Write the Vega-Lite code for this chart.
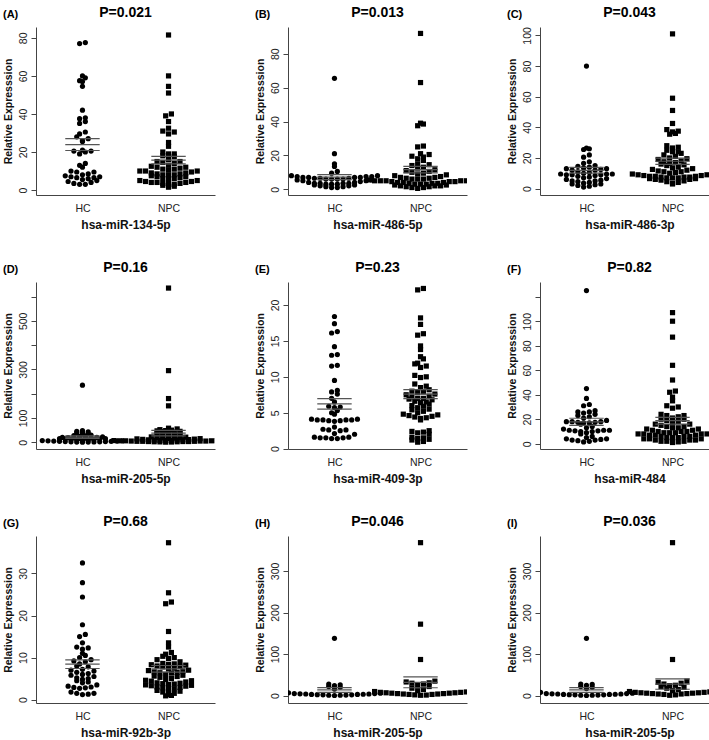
{
"$schema": "https://vega.github.io/schema/vega-lite/v6.json",
"background": "white",
"padding": {"left": 3, "top": 5, "right": 0, "bottom": 0},
"datasets": {"d": [
{"p":"A","g":"HC","v":77},{"p":"A","g":"HC","v":77.5},{"p":"A","g":"HC","v":60},{"p":"A","g":"HC","v":59},{"p":"A","g":"HC","v":57.5},{"p":"A","g":"HC","v":57},{"p":"A","g":"HC","v":54.5},{"p":"A","g":"HC","v":42},{"p":"A","g":"HC","v":38},{"p":"A","g":"HC","v":37.5},{"p":"A","g":"HC","v":36},{"p":"A","g":"HC","v":35},{"p":"A","g":"HC","v":30.5},{"p":"A","g":"HC","v":29.5},{"p":"A","g":"HC","v":28},{"p":"A","g":"HC","v":27},{"p":"A","g":"HC","v":26},{"p":"A","g":"HC","v":25.5},{"p":"A","g":"HC","v":21},{"p":"A","g":"HC","v":20.5},{"p":"A","g":"HC","v":20.5},{"p":"A","g":"HC","v":20},{"p":"A","g":"HC","v":19},{"p":"A","g":"HC","v":14},{"p":"A","g":"HC","v":13},{"p":"A","g":"HC","v":12},{"p":"A","g":"HC","v":10},{"p":"A","g":"HC","v":9.5},{"p":"A","g":"HC","v":9.5},{"p":"A","g":"HC","v":8.5},{"p":"A","g":"HC","v":8},{"p":"A","g":"HC","v":7.5},{"p":"A","g":"HC","v":7},{"p":"A","g":"HC","v":7},{"p":"A","g":"HC","v":6.5},{"p":"A","g":"HC","v":6.5},{"p":"A","g":"HC","v":6},{"p":"A","g":"HC","v":5.5},{"p":"A","g":"HC","v":5},{"p":"A","g":"HC","v":4.5},{"p":"A","g":"HC","v":4},{"p":"A","g":"HC","v":3.5},{"p":"A","g":"HC","v":3},{"p":"A","g":"HC","v":3},
{"p":"A","g":"NPC","v":81.5},{"p":"A","g":"NPC","v":60},{"p":"A","g":"NPC","v":54.5},{"p":"A","g":"NPC","v":51},{"p":"A","g":"NPC","v":40},{"p":"A","g":"NPC","v":39},{"p":"A","g":"NPC","v":36},{"p":"A","g":"NPC","v":32.5},{"p":"A","g":"NPC","v":31},{"p":"A","g":"NPC","v":30.5},{"p":"A","g":"NPC","v":29.5},{"p":"A","g":"NPC","v":25},{"p":"A","g":"NPC","v":23},{"p":"A","g":"NPC","v":20},{"p":"A","g":"NPC","v":19},{"p":"A","g":"NPC","v":19},{"p":"A","g":"NPC","v":18},{"p":"A","g":"NPC","v":17.5},{"p":"A","g":"NPC","v":16},{"p":"A","g":"NPC","v":15},{"p":"A","g":"NPC","v":15},{"p":"A","g":"NPC","v":14.5},{"p":"A","g":"NPC","v":14},{"p":"A","g":"NPC","v":13},{"p":"A","g":"NPC","v":12.5},{"p":"A","g":"NPC","v":12},{"p":"A","g":"NPC","v":12},{"p":"A","g":"NPC","v":11.5},{"p":"A","g":"NPC","v":11},{"p":"A","g":"NPC","v":11},{"p":"A","g":"NPC","v":10.5},{"p":"A","g":"NPC","v":10},{"p":"A","g":"NPC","v":10},{"p":"A","g":"NPC","v":10},{"p":"A","g":"NPC","v":9.5},{"p":"A","g":"NPC","v":9},{"p":"A","g":"NPC","v":9},{"p":"A","g":"NPC","v":8.5},{"p":"A","g":"NPC","v":8.5},{"p":"A","g":"NPC","v":8},{"p":"A","g":"NPC","v":8},{"p":"A","g":"NPC","v":8},{"p":"A","g":"NPC","v":7.5},{"p":"A","g":"NPC","v":7},{"p":"A","g":"NPC","v":7},{"p":"A","g":"NPC","v":6.5},{"p":"A","g":"NPC","v":6},{"p":"A","g":"NPC","v":6},{"p":"A","g":"NPC","v":5.5},{"p":"A","g":"NPC","v":5},{"p":"A","g":"NPC","v":5},{"p":"A","g":"NPC","v":4.5},{"p":"A","g":"NPC","v":4.5},{"p":"A","g":"NPC","v":4},{"p":"A","g":"NPC","v":4},{"p":"A","g":"NPC","v":4},{"p":"A","g":"NPC","v":3.5},{"p":"A","g":"NPC","v":3.5},{"p":"A","g":"NPC","v":3},{"p":"A","g":"NPC","v":3},{"p":"A","g":"NPC","v":2.5},{"p":"A","g":"NPC","v":2},{"p":"A","g":"NPC","v":1.5},
{"p":"B","g":"HC","v":65.5},{"p":"B","g":"HC","v":21},{"p":"B","g":"HC","v":15},{"p":"B","g":"HC","v":13.5},{"p":"B","g":"HC","v":10.5},{"p":"B","g":"HC","v":9.5},{"p":"B","g":"HC","v":8},{"p":"B","g":"HC","v":8},{"p":"B","g":"HC","v":7.5},{"p":"B","g":"HC","v":7.5},{"p":"B","g":"HC","v":7.5},{"p":"B","g":"HC","v":7},{"p":"B","g":"HC","v":7},{"p":"B","g":"HC","v":7},{"p":"B","g":"HC","v":7},{"p":"B","g":"HC","v":6.5},{"p":"B","g":"HC","v":6.5},{"p":"B","g":"HC","v":6.5},{"p":"B","g":"HC","v":6},{"p":"B","g":"HC","v":6},{"p":"B","g":"HC","v":6},{"p":"B","g":"HC","v":6},{"p":"B","g":"HC","v":5.5},{"p":"B","g":"HC","v":5.5},{"p":"B","g":"HC","v":5},{"p":"B","g":"HC","v":5},{"p":"B","g":"HC","v":4.5},{"p":"B","g":"HC","v":4},{"p":"B","g":"HC","v":4},{"p":"B","g":"HC","v":3.5},{"p":"B","g":"HC","v":3.5},{"p":"B","g":"HC","v":3.5},{"p":"B","g":"HC","v":3.5},{"p":"B","g":"HC","v":3},{"p":"B","g":"HC","v":3},{"p":"B","g":"HC","v":3},{"p":"B","g":"HC","v":2.5},{"p":"B","g":"HC","v":2.5},{"p":"B","g":"HC","v":2},{"p":"B","g":"HC","v":2},{"p":"B","g":"HC","v":1.5},{"p":"B","g":"HC","v":1.5},{"p":"B","g":"HC","v":1},{"p":"B","g":"HC","v":1},
{"p":"B","g":"NPC","v":92},{"p":"B","g":"NPC","v":63},{"p":"B","g":"NPC","v":39},{"p":"B","g":"NPC","v":38.5},{"p":"B","g":"NPC","v":37.5},{"p":"B","g":"NPC","v":25.5},{"p":"B","g":"NPC","v":25},{"p":"B","g":"NPC","v":21},{"p":"B","g":"NPC","v":20.5},{"p":"B","g":"NPC","v":19.5},{"p":"B","g":"NPC","v":19},{"p":"B","g":"NPC","v":18},{"p":"B","g":"NPC","v":17},{"p":"B","g":"NPC","v":15},{"p":"B","g":"NPC","v":14.5},{"p":"B","g":"NPC","v":14},{"p":"B","g":"NPC","v":13},{"p":"B","g":"NPC","v":12.5},{"p":"B","g":"NPC","v":11.5},{"p":"B","g":"NPC","v":11},{"p":"B","g":"NPC","v":10.5},{"p":"B","g":"NPC","v":10},{"p":"B","g":"NPC","v":9.5},{"p":"B","g":"NPC","v":9},{"p":"B","g":"NPC","v":8.5},{"p":"B","g":"NPC","v":8},{"p":"B","g":"NPC","v":7.5},{"p":"B","g":"NPC","v":7},{"p":"B","g":"NPC","v":7},{"p":"B","g":"NPC","v":6.5},{"p":"B","g":"NPC","v":6.5},{"p":"B","g":"NPC","v":6},{"p":"B","g":"NPC","v":6},{"p":"B","g":"NPC","v":6},{"p":"B","g":"NPC","v":5.5},{"p":"B","g":"NPC","v":5.5},{"p":"B","g":"NPC","v":5},{"p":"B","g":"NPC","v":5},{"p":"B","g":"NPC","v":5},{"p":"B","g":"NPC","v":5},{"p":"B","g":"NPC","v":5},{"p":"B","g":"NPC","v":4.5},{"p":"B","g":"NPC","v":4.5},{"p":"B","g":"NPC","v":4.5},{"p":"B","g":"NPC","v":4},{"p":"B","g":"NPC","v":4},{"p":"B","g":"NPC","v":4},{"p":"B","g":"NPC","v":3.5},{"p":"B","g":"NPC","v":3.5},{"p":"B","g":"NPC","v":3.5},{"p":"B","g":"NPC","v":3},{"p":"B","g":"NPC","v":3},{"p":"B","g":"NPC","v":3},{"p":"B","g":"NPC","v":2.5},{"p":"B","g":"NPC","v":2.5},{"p":"B","g":"NPC","v":2},{"p":"B","g":"NPC","v":2},{"p":"B","g":"NPC","v":2},{"p":"B","g":"NPC","v":1.5},{"p":"B","g":"NPC","v":1.5},{"p":"B","g":"NPC","v":1},{"p":"B","g":"NPC","v":1},{"p":"B","g":"NPC","v":0.5},
{"p":"C","g":"HC","v":80},{"p":"C","g":"HC","v":26.5},{"p":"C","g":"HC","v":26},{"p":"C","g":"HC","v":25.5},{"p":"C","g":"HC","v":22},{"p":"C","g":"HC","v":20.5},{"p":"C","g":"HC","v":17.5},{"p":"C","g":"HC","v":16.5},{"p":"C","g":"HC","v":15},{"p":"C","g":"HC","v":14.5},{"p":"C","g":"HC","v":14},{"p":"C","g":"HC","v":13.5},{"p":"C","g":"HC","v":13},{"p":"C","g":"HC","v":13},{"p":"C","g":"HC","v":12.5},{"p":"C","g":"HC","v":12},{"p":"C","g":"HC","v":12},{"p":"C","g":"HC","v":11},{"p":"C","g":"HC","v":10.5},{"p":"C","g":"HC","v":10},{"p":"C","g":"HC","v":9.5},{"p":"C","g":"HC","v":9.5},{"p":"C","g":"HC","v":9.5},{"p":"C","g":"HC","v":9},{"p":"C","g":"HC","v":9},{"p":"C","g":"HC","v":9},{"p":"C","g":"HC","v":8.5},{"p":"C","g":"HC","v":8},{"p":"C","g":"HC","v":7.5},{"p":"C","g":"HC","v":7},{"p":"C","g":"HC","v":6.5},{"p":"C","g":"HC","v":6},{"p":"C","g":"HC","v":5.5},{"p":"C","g":"HC","v":5},{"p":"C","g":"HC","v":5},{"p":"C","g":"HC","v":4.5},{"p":"C","g":"HC","v":4},{"p":"C","g":"HC","v":3.5},{"p":"C","g":"HC","v":3},{"p":"C","g":"HC","v":3},{"p":"C","g":"HC","v":2.5},{"p":"C","g":"HC","v":2},{"p":"C","g":"HC","v":1.5},{"p":"C","g":"HC","v":1},
{"p":"C","g":"NPC","v":101},{"p":"C","g":"NPC","v":59},{"p":"C","g":"NPC","v":51},{"p":"C","g":"NPC","v":42.5},{"p":"C","g":"NPC","v":38.5},{"p":"C","g":"NPC","v":37.5},{"p":"C","g":"NPC","v":37},{"p":"C","g":"NPC","v":36},{"p":"C","g":"NPC","v":35.5},{"p":"C","g":"NPC","v":28},{"p":"C","g":"NPC","v":27},{"p":"C","g":"NPC","v":26.5},{"p":"C","g":"NPC","v":25},{"p":"C","g":"NPC","v":24},{"p":"C","g":"NPC","v":24},{"p":"C","g":"NPC","v":23},{"p":"C","g":"NPC","v":22},{"p":"C","g":"NPC","v":21},{"p":"C","g":"NPC","v":20},{"p":"C","g":"NPC","v":19.5},{"p":"C","g":"NPC","v":19},{"p":"C","g":"NPC","v":18},{"p":"C","g":"NPC","v":17.5},{"p":"C","g":"NPC","v":17},{"p":"C","g":"NPC","v":16.5},{"p":"C","g":"NPC","v":16},{"p":"C","g":"NPC","v":15.5},{"p":"C","g":"NPC","v":15},{"p":"C","g":"NPC","v":14},{"p":"C","g":"NPC","v":13.5},{"p":"C","g":"NPC","v":13},{"p":"C","g":"NPC","v":12.5},{"p":"C","g":"NPC","v":12},{"p":"C","g":"NPC","v":11.5},{"p":"C","g":"NPC","v":11},{"p":"C","g":"NPC","v":11},{"p":"C","g":"NPC","v":10.5},{"p":"C","g":"NPC","v":10},{"p":"C","g":"NPC","v":9.5},{"p":"C","g":"NPC","v":9.5},{"p":"C","g":"NPC","v":9},{"p":"C","g":"NPC","v":9},{"p":"C","g":"NPC","v":8.5},{"p":"C","g":"NPC","v":8.5},{"p":"C","g":"NPC","v":8},{"p":"C","g":"NPC","v":8},{"p":"C","g":"NPC","v":8},{"p":"C","g":"NPC","v":7.5},{"p":"C","g":"NPC","v":7.5},{"p":"C","g":"NPC","v":7.5},{"p":"C","g":"NPC","v":7},{"p":"C","g":"NPC","v":7},{"p":"C","g":"NPC","v":7},{"p":"C","g":"NPC","v":6.5},{"p":"C","g":"NPC","v":6.5},{"p":"C","g":"NPC","v":6},{"p":"C","g":"NPC","v":6},{"p":"C","g":"NPC","v":5.5},{"p":"C","g":"NPC","v":5},{"p":"C","g":"NPC","v":4.5},{"p":"C","g":"NPC","v":4},{"p":"C","g":"NPC","v":3.5},{"p":"C","g":"NPC","v":3},
{"p":"D","g":"HC","v":235},{"p":"D","g":"HC","v":48},{"p":"D","g":"HC","v":45},{"p":"D","g":"HC","v":43},{"p":"D","g":"HC","v":40},{"p":"D","g":"HC","v":38},{"p":"D","g":"HC","v":35},{"p":"D","g":"HC","v":33},{"p":"D","g":"HC","v":30},{"p":"D","g":"HC","v":28},{"p":"D","g":"HC","v":26},{"p":"D","g":"HC","v":24},{"p":"D","g":"HC","v":22},{"p":"D","g":"HC","v":20},{"p":"D","g":"HC","v":20},{"p":"D","g":"HC","v":19},{"p":"D","g":"HC","v":18},{"p":"D","g":"HC","v":18},{"p":"D","g":"HC","v":17},{"p":"D","g":"HC","v":16},{"p":"D","g":"HC","v":15},{"p":"D","g":"HC","v":15},{"p":"D","g":"HC","v":14},{"p":"D","g":"HC","v":13},{"p":"D","g":"HC","v":12},{"p":"D","g":"HC","v":11},{"p":"D","g":"HC","v":10},{"p":"D","g":"HC","v":9},{"p":"D","g":"HC","v":8},{"p":"D","g":"HC","v":7},{"p":"D","g":"HC","v":6},{"p":"D","g":"HC","v":6},{"p":"D","g":"HC","v":5},{"p":"D","g":"HC","v":5},{"p":"D","g":"HC","v":4},{"p":"D","g":"HC","v":4},{"p":"D","g":"HC","v":3},{"p":"D","g":"HC","v":3},{"p":"D","g":"HC","v":2},{"p":"D","g":"HC","v":2},{"p":"D","g":"HC","v":1.5},{"p":"D","g":"HC","v":1},{"p":"D","g":"HC","v":1},{"p":"D","g":"HC","v":0.5},
{"p":"D","g":"NPC","v":635},{"p":"D","g":"NPC","v":295},{"p":"D","g":"NPC","v":180},{"p":"D","g":"NPC","v":150},{"p":"D","g":"NPC","v":58},{"p":"D","g":"NPC","v":55},{"p":"D","g":"NPC","v":52},{"p":"D","g":"NPC","v":50},{"p":"D","g":"NPC","v":48},{"p":"D","g":"NPC","v":47},{"p":"D","g":"NPC","v":45},{"p":"D","g":"NPC","v":44},{"p":"D","g":"NPC","v":42},{"p":"D","g":"NPC","v":40},{"p":"D","g":"NPC","v":38},{"p":"D","g":"NPC","v":36},{"p":"D","g":"NPC","v":35},{"p":"D","g":"NPC","v":33},{"p":"D","g":"NPC","v":32},{"p":"D","g":"NPC","v":30},{"p":"D","g":"NPC","v":28},{"p":"D","g":"NPC","v":27},{"p":"D","g":"NPC","v":25},{"p":"D","g":"NPC","v":24},{"p":"D","g":"NPC","v":22},{"p":"D","g":"NPC","v":21},{"p":"D","g":"NPC","v":20},{"p":"D","g":"NPC","v":19},{"p":"D","g":"NPC","v":18},{"p":"D","g":"NPC","v":17},{"p":"D","g":"NPC","v":16},{"p":"D","g":"NPC","v":15},{"p":"D","g":"NPC","v":14},{"p":"D","g":"NPC","v":13},{"p":"D","g":"NPC","v":12},{"p":"D","g":"NPC","v":11},{"p":"D","g":"NPC","v":10},{"p":"D","g":"NPC","v":10},{"p":"D","g":"NPC","v":9},{"p":"D","g":"NPC","v":9},{"p":"D","g":"NPC","v":8},{"p":"D","g":"NPC","v":8},{"p":"D","g":"NPC","v":8},{"p":"D","g":"NPC","v":7},{"p":"D","g":"NPC","v":7},{"p":"D","g":"NPC","v":7},{"p":"D","g":"NPC","v":6},{"p":"D","g":"NPC","v":6},{"p":"D","g":"NPC","v":6},{"p":"D","g":"NPC","v":5},{"p":"D","g":"NPC","v":5},{"p":"D","g":"NPC","v":5},{"p":"D","g":"NPC","v":4},{"p":"D","g":"NPC","v":4},{"p":"D","g":"NPC","v":4},{"p":"D","g":"NPC","v":3},{"p":"D","g":"NPC","v":3},{"p":"D","g":"NPC","v":3},{"p":"D","g":"NPC","v":2},{"p":"D","g":"NPC","v":2},{"p":"D","g":"NPC","v":1.5},{"p":"D","g":"NPC","v":1},{"p":"D","g":"NPC","v":0.5},
{"p":"E","g":"HC","v":18.4},{"p":"E","g":"HC","v":17.4},{"p":"E","g":"HC","v":16.3},{"p":"E","g":"HC","v":16.1},{"p":"E","g":"HC","v":14.2},{"p":"E","g":"HC","v":13.1},{"p":"E","g":"HC","v":13},{"p":"E","g":"HC","v":11.6},{"p":"E","g":"HC","v":11.5},{"p":"E","g":"HC","v":9.5},{"p":"E","g":"HC","v":8.1},{"p":"E","g":"HC","v":7.9},{"p":"E","g":"HC","v":7.6},{"p":"E","g":"HC","v":7},{"p":"E","g":"HC","v":6.5},{"p":"E","g":"HC","v":5.9},{"p":"E","g":"HC","v":5.8},{"p":"E","g":"HC","v":5.7},{"p":"E","g":"HC","v":5.3},{"p":"E","g":"HC","v":5},{"p":"E","g":"HC","v":4.8},{"p":"E","g":"HC","v":4.1},{"p":"E","g":"HC","v":4.1},{"p":"E","g":"HC","v":4},{"p":"E","g":"HC","v":4},{"p":"E","g":"HC","v":4},{"p":"E","g":"HC","v":4},{"p":"E","g":"HC","v":3.9},{"p":"E","g":"HC","v":3.9},{"p":"E","g":"HC","v":3.8},{"p":"E","g":"HC","v":3},{"p":"E","g":"HC","v":2.7},{"p":"E","g":"HC","v":2.6},{"p":"E","g":"HC","v":2.6},{"p":"E","g":"HC","v":2.5},{"p":"E","g":"HC","v":2.1},{"p":"E","g":"HC","v":2},{"p":"E","g":"HC","v":1.6},{"p":"E","g":"HC","v":1.6},{"p":"E","g":"HC","v":1.5},{"p":"E","g":"HC","v":1.5},{"p":"E","g":"HC","v":1.5},{"p":"E","g":"HC","v":1.4},{"p":"E","g":"HC","v":1.4},
{"p":"E","g":"NPC","v":22.3},{"p":"E","g":"NPC","v":22.1},{"p":"E","g":"NPC","v":18.2},{"p":"E","g":"NPC","v":17.3},{"p":"E","g":"NPC","v":16},{"p":"E","g":"NPC","v":15.8},{"p":"E","g":"NPC","v":14.3},{"p":"E","g":"NPC","v":13.8},{"p":"E","g":"NPC","v":12.8},{"p":"E","g":"NPC","v":12.5},{"p":"E","g":"NPC","v":11.9},{"p":"E","g":"NPC","v":11.8},{"p":"E","g":"NPC","v":11.5},{"p":"E","g":"NPC","v":11.3},{"p":"E","g":"NPC","v":10.2},{"p":"E","g":"NPC","v":10},{"p":"E","g":"NPC","v":9.9},{"p":"E","g":"NPC","v":9},{"p":"E","g":"NPC","v":8.7},{"p":"E","g":"NPC","v":8.5},{"p":"E","g":"NPC","v":8},{"p":"E","g":"NPC","v":7.8},{"p":"E","g":"NPC","v":7.5},{"p":"E","g":"NPC","v":7.2},{"p":"E","g":"NPC","v":7},{"p":"E","g":"NPC","v":7},{"p":"E","g":"NPC","v":6.8},{"p":"E","g":"NPC","v":6.5},{"p":"E","g":"NPC","v":6.2},{"p":"E","g":"NPC","v":6},{"p":"E","g":"NPC","v":5.7},{"p":"E","g":"NPC","v":5.5},{"p":"E","g":"NPC","v":5.2},{"p":"E","g":"NPC","v":5},{"p":"E","g":"NPC","v":4.8},{"p":"E","g":"NPC","v":4.6},{"p":"E","g":"NPC","v":4.4},{"p":"E","g":"NPC","v":4.3},{"p":"E","g":"NPC","v":4.2},{"p":"E","g":"NPC","v":4},{"p":"E","g":"NPC","v":8.2},{"p":"E","g":"NPC","v":7.9},{"p":"E","g":"NPC","v":7.6},{"p":"E","g":"NPC","v":6.9},{"p":"E","g":"NPC","v":6.4},{"p":"E","g":"NPC","v":4.7},{"p":"E","g":"NPC","v":4.5},{"p":"E","g":"NPC","v":2.5},{"p":"E","g":"NPC","v":2.4},{"p":"E","g":"NPC","v":2.3},{"p":"E","g":"NPC","v":2.2},{"p":"E","g":"NPC","v":2},{"p":"E","g":"NPC","v":5.9},{"p":"E","g":"NPC","v":5.4},{"p":"E","g":"NPC","v":1.6},{"p":"E","g":"NPC","v":1.5},{"p":"E","g":"NPC","v":1.4},{"p":"E","g":"NPC","v":1.3},{"p":"E","g":"NPC","v":1.2},{"p":"E","g":"NPC","v":1},{"p":"E","g":"NPC","v":0.9},{"p":"E","g":"NPC","v":6.6},{"p":"E","g":"NPC","v":7.3},
{"p":"F","g":"HC","v":125},{"p":"F","g":"HC","v":45},{"p":"F","g":"HC","v":37},{"p":"F","g":"HC","v":32},{"p":"F","g":"HC","v":31},{"p":"F","g":"HC","v":27},{"p":"F","g":"HC","v":26},{"p":"F","g":"HC","v":26},{"p":"F","g":"HC","v":25},{"p":"F","g":"HC","v":24},{"p":"F","g":"HC","v":23},{"p":"F","g":"HC","v":22},{"p":"F","g":"HC","v":21},{"p":"F","g":"HC","v":19},{"p":"F","g":"HC","v":18},{"p":"F","g":"HC","v":18},{"p":"F","g":"HC","v":18},{"p":"F","g":"HC","v":17.5},{"p":"F","g":"HC","v":17.5},{"p":"F","g":"HC","v":17},{"p":"F","g":"HC","v":17},{"p":"F","g":"HC","v":16},{"p":"F","g":"HC","v":14},{"p":"F","g":"HC","v":13},{"p":"F","g":"HC","v":12},{"p":"F","g":"HC","v":11},{"p":"F","g":"HC","v":11},{"p":"F","g":"HC","v":11},{"p":"F","g":"HC","v":10.5},{"p":"F","g":"HC","v":10.5},{"p":"F","g":"HC","v":10},{"p":"F","g":"HC","v":10},{"p":"F","g":"HC","v":9},{"p":"F","g":"HC","v":8},{"p":"F","g":"HC","v":6},{"p":"F","g":"HC","v":5},{"p":"F","g":"HC","v":4},{"p":"F","g":"HC","v":4},{"p":"F","g":"HC","v":3.5},{"p":"F","g":"HC","v":3},{"p":"F","g":"HC","v":3},{"p":"F","g":"HC","v":2.5},{"p":"F","g":"HC","v":2},{"p":"F","g":"HC","v":1.5},
{"p":"F","g":"NPC","v":107},{"p":"F","g":"NPC","v":100},{"p":"F","g":"NPC","v":87},{"p":"F","g":"NPC","v":64},{"p":"F","g":"NPC","v":52},{"p":"F","g":"NPC","v":43},{"p":"F","g":"NPC","v":42},{"p":"F","g":"NPC","v":38},{"p":"F","g":"NPC","v":35},{"p":"F","g":"NPC","v":31},{"p":"F","g":"NPC","v":30},{"p":"F","g":"NPC","v":29},{"p":"F","g":"NPC","v":23},{"p":"F","g":"NPC","v":22},{"p":"F","g":"NPC","v":21},{"p":"F","g":"NPC","v":20},{"p":"F","g":"NPC","v":20},{"p":"F","g":"NPC","v":19},{"p":"F","g":"NPC","v":18},{"p":"F","g":"NPC","v":17},{"p":"F","g":"NPC","v":16},{"p":"F","g":"NPC","v":16},{"p":"F","g":"NPC","v":15},{"p":"F","g":"NPC","v":14},{"p":"F","g":"NPC","v":13},{"p":"F","g":"NPC","v":12},{"p":"F","g":"NPC","v":12},{"p":"F","g":"NPC","v":11},{"p":"F","g":"NPC","v":11},{"p":"F","g":"NPC","v":10},{"p":"F","g":"NPC","v":10},{"p":"F","g":"NPC","v":10},{"p":"F","g":"NPC","v":9},{"p":"F","g":"NPC","v":9},{"p":"F","g":"NPC","v":9},{"p":"F","g":"NPC","v":8},{"p":"F","g":"NPC","v":8},{"p":"F","g":"NPC","v":8},{"p":"F","g":"NPC","v":8},{"p":"F","g":"NPC","v":7},{"p":"F","g":"NPC","v":7},{"p":"F","g":"NPC","v":7},{"p":"F","g":"NPC","v":6},{"p":"F","g":"NPC","v":6},{"p":"F","g":"NPC","v":6},{"p":"F","g":"NPC","v":5},{"p":"F","g":"NPC","v":5},{"p":"F","g":"NPC","v":5},{"p":"F","g":"NPC","v":4},{"p":"F","g":"NPC","v":4},{"p":"F","g":"NPC","v":4},{"p":"F","g":"NPC","v":3},{"p":"F","g":"NPC","v":3},{"p":"F","g":"NPC","v":3},{"p":"F","g":"NPC","v":2},{"p":"F","g":"NPC","v":2},{"p":"F","g":"NPC","v":2},{"p":"F","g":"NPC","v":1.5},{"p":"F","g":"NPC","v":1},{"p":"F","g":"NPC","v":24},{"p":"F","g":"NPC","v":23},{"p":"F","g":"NPC","v":14},{"p":"F","g":"NPC","v":13},
{"p":"G","g":"HC","v":32.5},{"p":"G","g":"HC","v":27.8},{"p":"G","g":"HC","v":24.4},{"p":"G","g":"HC","v":17.8},{"p":"G","g":"HC","v":15.5},{"p":"G","g":"HC","v":15},{"p":"G","g":"HC","v":13.5},{"p":"G","g":"HC","v":12.5},{"p":"G","g":"HC","v":12.3},{"p":"G","g":"HC","v":12},{"p":"G","g":"HC","v":11},{"p":"G","g":"HC","v":10},{"p":"G","g":"HC","v":9.5},{"p":"G","g":"HC","v":9.2},{"p":"G","g":"HC","v":9},{"p":"G","g":"HC","v":8.5},{"p":"G","g":"HC","v":8},{"p":"G","g":"HC","v":7.8},{"p":"G","g":"HC","v":7},{"p":"G","g":"HC","v":6.5},{"p":"G","g":"HC","v":6},{"p":"G","g":"HC","v":5.8},{"p":"G","g":"HC","v":5.5},{"p":"G","g":"HC","v":5},{"p":"G","g":"HC","v":4.8},{"p":"G","g":"HC","v":4.5},{"p":"G","g":"HC","v":4},{"p":"G","g":"HC","v":3.5},{"p":"G","g":"HC","v":3.2},{"p":"G","g":"HC","v":3},{"p":"G","g":"HC","v":2.9},{"p":"G","g":"HC","v":2.8},{"p":"G","g":"HC","v":2.7},{"p":"G","g":"HC","v":6.2},{"p":"G","g":"HC","v":5.2},{"p":"G","g":"HC","v":4.2},{"p":"G","g":"HC","v":1.8},{"p":"G","g":"HC","v":1.5},{"p":"G","g":"HC","v":1.2},{"p":"G","g":"HC","v":1.3},{"p":"G","g":"HC","v":1.5},{"p":"G","g":"HC","v":7.2},{"p":"G","g":"HC","v":6.8},{"p":"G","g":"HC","v":10.5},
{"p":"G","g":"NPC","v":37.3},{"p":"G","g":"NPC","v":25.4},{"p":"G","g":"NPC","v":23.2},{"p":"G","g":"NPC","v":22.8},{"p":"G","g":"NPC","v":16.2},{"p":"G","g":"NPC","v":13.5},{"p":"G","g":"NPC","v":12.5},{"p":"G","g":"NPC","v":11.2},{"p":"G","g":"NPC","v":10.8},{"p":"G","g":"NPC","v":10.3},{"p":"G","g":"NPC","v":10},{"p":"G","g":"NPC","v":9.5},{"p":"G","g":"NPC","v":9},{"p":"G","g":"NPC","v":8.5},{"p":"G","g":"NPC","v":8.4},{"p":"G","g":"NPC","v":8.3},{"p":"G","g":"NPC","v":8.2},{"p":"G","g":"NPC","v":8},{"p":"G","g":"NPC","v":7.8},{"p":"G","g":"NPC","v":7.5},{"p":"G","g":"NPC","v":7.3},{"p":"G","g":"NPC","v":7},{"p":"G","g":"NPC","v":6.8},{"p":"G","g":"NPC","v":6.6},{"p":"G","g":"NPC","v":6.5},{"p":"G","g":"NPC","v":6.3},{"p":"G","g":"NPC","v":6},{"p":"G","g":"NPC","v":5.8},{"p":"G","g":"NPC","v":5.5},{"p":"G","g":"NPC","v":5.3},{"p":"G","g":"NPC","v":5},{"p":"G","g":"NPC","v":4.8},{"p":"G","g":"NPC","v":4.6},{"p":"G","g":"NPC","v":4.5},{"p":"G","g":"NPC","v":4.2},{"p":"G","g":"NPC","v":4},{"p":"G","g":"NPC","v":3.9},{"p":"G","g":"NPC","v":3.8},{"p":"G","g":"NPC","v":3.7},{"p":"G","g":"NPC","v":3.6},{"p":"G","g":"NPC","v":3.5},{"p":"G","g":"NPC","v":3.4},{"p":"G","g":"NPC","v":3.2},{"p":"G","g":"NPC","v":3},{"p":"G","g":"NPC","v":2.9},{"p":"G","g":"NPC","v":2.8},{"p":"G","g":"NPC","v":2.6},{"p":"G","g":"NPC","v":2.4},{"p":"G","g":"NPC","v":2.2},{"p":"G","g":"NPC","v":2},{"p":"G","g":"NPC","v":1.8},{"p":"G","g":"NPC","v":1.5},{"p":"G","g":"NPC","v":1.2},{"p":"G","g":"NPC","v":1},{"p":"G","g":"NPC","v":0.9},{"p":"G","g":"NPC","v":6.4},{"p":"G","g":"NPC","v":7.9},{"p":"G","g":"NPC","v":5.6},{"p":"G","g":"NPC","v":4.4},{"p":"G","g":"NPC","v":3.3},{"p":"G","g":"NPC","v":8.6},{"p":"G","g":"NPC","v":9.8},{"p":"G","g":"NPC","v":6.9},
{"p":"H","g":"HC","v":138},{"p":"H","g":"HC","v":28},{"p":"H","g":"HC","v":26},{"p":"H","g":"HC","v":24},{"p":"H","g":"HC","v":22},{"p":"H","g":"HC","v":20},{"p":"H","g":"HC","v":16},{"p":"H","g":"HC","v":7},{"p":"H","g":"HC","v":6},{"p":"H","g":"HC","v":5},{"p":"H","g":"HC","v":5},{"p":"H","g":"HC","v":4.5},{"p":"H","g":"HC","v":4},{"p":"H","g":"HC","v":4},{"p":"H","g":"HC","v":3.5},{"p":"H","g":"HC","v":3},{"p":"H","g":"HC","v":3},{"p":"H","g":"HC","v":2.5},{"p":"H","g":"HC","v":2},{"p":"H","g":"HC","v":2},{"p":"H","g":"HC","v":1.5},{"p":"H","g":"HC","v":1},{"p":"H","g":"HC","v":1},{"p":"H","g":"HC","v":0.5},
{"p":"H","g":"NPC","v":368},{"p":"H","g":"NPC","v":172},{"p":"H","g":"NPC","v":87},{"p":"H","g":"NPC","v":35},{"p":"H","g":"NPC","v":33},{"p":"H","g":"NPC","v":31},{"p":"H","g":"NPC","v":30},{"p":"H","g":"NPC","v":28},{"p":"H","g":"NPC","v":25},{"p":"H","g":"NPC","v":22},{"p":"H","g":"NPC","v":18},{"p":"H","g":"NPC","v":15},{"p":"H","g":"NPC","v":12},{"p":"H","g":"NPC","v":10},{"p":"H","g":"NPC","v":9},{"p":"H","g":"NPC","v":8},{"p":"H","g":"NPC","v":8},{"p":"H","g":"NPC","v":7},{"p":"H","g":"NPC","v":7},{"p":"H","g":"NPC","v":6},{"p":"H","g":"NPC","v":6},{"p":"H","g":"NPC","v":5},{"p":"H","g":"NPC","v":5},{"p":"H","g":"NPC","v":4},{"p":"H","g":"NPC","v":4},{"p":"H","g":"NPC","v":3},{"p":"H","g":"NPC","v":3},{"p":"H","g":"NPC","v":2},{"p":"H","g":"NPC","v":1.5},{"p":"H","g":"NPC","v":1},
{"p":"I","g":"HC","v":138},{"p":"I","g":"HC","v":28},{"p":"I","g":"HC","v":27},{"p":"I","g":"HC","v":25},{"p":"I","g":"HC","v":22},{"p":"I","g":"HC","v":20},{"p":"I","g":"HC","v":17},{"p":"I","g":"HC","v":8},{"p":"I","g":"HC","v":6},{"p":"I","g":"HC","v":5},{"p":"I","g":"HC","v":5},{"p":"I","g":"HC","v":4.5},{"p":"I","g":"HC","v":4},{"p":"I","g":"HC","v":4},{"p":"I","g":"HC","v":3.5},{"p":"I","g":"HC","v":3},{"p":"I","g":"HC","v":3},{"p":"I","g":"HC","v":2.5},{"p":"I","g":"HC","v":2},{"p":"I","g":"HC","v":2},{"p":"I","g":"HC","v":1.5},{"p":"I","g":"HC","v":1},{"p":"I","g":"HC","v":1},{"p":"I","g":"HC","v":0.5},
{"p":"I","g":"NPC","v":368},{"p":"I","g":"NPC","v":87},{"p":"I","g":"NPC","v":35},{"p":"I","g":"NPC","v":32},{"p":"I","g":"NPC","v":30},{"p":"I","g":"NPC","v":28},{"p":"I","g":"NPC","v":25},{"p":"I","g":"NPC","v":24},{"p":"I","g":"NPC","v":22},{"p":"I","g":"NPC","v":20},{"p":"I","g":"NPC","v":18},{"p":"I","g":"NPC","v":15},{"p":"I","g":"NPC","v":12},{"p":"I","g":"NPC","v":10},{"p":"I","g":"NPC","v":10},{"p":"I","g":"NPC","v":9},{"p":"I","g":"NPC","v":8},{"p":"I","g":"NPC","v":8},{"p":"I","g":"NPC","v":7},{"p":"I","g":"NPC","v":7},{"p":"I","g":"NPC","v":6},{"p":"I","g":"NPC","v":6},{"p":"I","g":"NPC","v":5},{"p":"I","g":"NPC","v":5},{"p":"I","g":"NPC","v":4},{"p":"I","g":"NPC","v":4},{"p":"I","g":"NPC","v":3},{"p":"I","g":"NPC","v":2},{"p":"I","g":"NPC","v":1}
]},
"data": {"name": "d"},
"spacing": 30,
"vconcat": [
{"spacing": 40, "hconcat": [
{"title": {"text": "(A)", "anchor": "start", "frame": "bounds", "fontSize": 11, "offset": -14},
 "vconcat": [{"width": 179, "height": 168, "title": {"text": "P=0.021", "offset": 7},
  "transform": [{"filter": "datum.p == 'A'"}, {"calculate": "floor(datum.v / 2.6)", "as": "bin"}, {"calculate": "datum.g == 'HC' ? 1 : 2", "as": "grp"}, {"window": [{"op": "row_number", "as": "r"}, {"op": "count", "as": "k"}], "groupby": ["g", "bin"], "sort": [{"field": "v"}], "frame": [null, null]}, {"calculate": "datum.grp + ((datum.r % 2 == 1 ? -(datum.r - 1) / 2 : datum.r / 2) - (datum.k % 2 == 0 ? 0.5 : 0)) * 0.0667", "as": "xpos"}],
  "encoding": {"x": {"field": "xpos", "type": "quantitative", "scale": {"domain": [0.46, 2.54]}, "axis": {"values": [1, 2], "labelExpr": "datum.value == 1 ? 'HC' : 'NPC'", "title": "hsa-miR-134-5p"}},
   "y": {"field": "v", "type": "quantitative", "scale": {"domain": [-2.6, 85.7], "nice": false, "zero": false}, "axis": {"values": [0, 20, 40, 60, 80], "labelOverlap": false, "title": "Relative Expresssion"}}},
  "layer": [
   {"mark": {"type": "point", "filled": true, "size": 27, "opacity": 1, "color": "#000", "clip": true},
    "encoding": {"shape": {"field": "g", "type": "nominal", "scale": {"domain": ["HC", "NPC"], "range": ["circle", "square"]}, "legend": null}}},
   {"transform": [{"aggregate": [{"op": "mean", "field": "v", "as": "m"}, {"op": "stderr", "field": "v", "as": "se"}], "groupby": ["grp"]}, {"calculate": "datum.m + datum.se", "as": "hi"}, {"calculate": "datum.m - datum.se", "as": "lo"}, {"fold": ["lo", "m", "hi"], "as": ["stat", "v"]}, {"calculate": "datum.grp - 0.2", "as": "xpos"}, {"calculate": "datum.grp + 0.2", "as": "xend"}],
    "mark": {"type": "rule", "color": "#555", "strokeWidth": 1.2},
    "encoding": {"x2": {"field": "xend"}}}
  ]}]},
{"title": {"text": "(B)", "anchor": "start", "frame": "bounds", "fontSize": 11, "offset": -14},
 "vconcat": [{"width": 179, "height": 168, "title": {"text": "P=0.013", "offset": 7},
  "transform": [{"filter": "datum.p == 'B'"}, {"calculate": "floor(datum.v / 3.0)", "as": "bin"}, {"calculate": "datum.g == 'HC' ? 1 : 2", "as": "grp"}, {"window": [{"op": "row_number", "as": "r"}, {"op": "count", "as": "k"}], "groupby": ["g", "bin"], "sort": [{"field": "v"}], "frame": [null, null]}, {"calculate": "datum.grp + ((datum.r % 2 == 1 ? -(datum.r - 1) / 2 : datum.r / 2) - (datum.k % 2 == 0 ? 0.5 : 0)) * 0.0667", "as": "xpos"}],
  "encoding": {"x": {"field": "xpos", "type": "quantitative", "scale": {"domain": [0.46, 2.54]}, "axis": {"values": [1, 2], "labelExpr": "datum.value == 1 ? 'HC' : 'NPC'", "title": "hsa-miR-486-5p"}},
   "y": {"field": "v", "type": "quantitative", "scale": {"domain": [-3.4, 95.8], "nice": false, "zero": false}, "axis": {"values": [0, 20, 40, 60, 80], "labelOverlap": false, "title": "Relative Expresssion"}}},
  "layer": [
   {"mark": {"type": "point", "filled": true, "size": 27, "opacity": 1, "color": "#000", "clip": true},
    "encoding": {"shape": {"field": "g", "type": "nominal", "scale": {"domain": ["HC", "NPC"], "range": ["circle", "square"]}, "legend": null}}},
   {"transform": [{"aggregate": [{"op": "mean", "field": "v", "as": "m"}, {"op": "stderr", "field": "v", "as": "se"}], "groupby": ["grp"]}, {"calculate": "datum.m + datum.se", "as": "hi"}, {"calculate": "datum.m - datum.se", "as": "lo"}, {"fold": ["lo", "m", "hi"], "as": ["stat", "v"]}, {"calculate": "datum.grp - 0.2", "as": "xpos"}, {"calculate": "datum.grp + 0.2", "as": "xend"}],
    "mark": {"type": "rule", "color": "#555", "strokeWidth": 1.2},
    "encoding": {"x2": {"field": "xend"}}}
  ]}]},
{"title": {"text": "(C)", "anchor": "start", "frame": "bounds", "fontSize": 11, "offset": -14},
 "vconcat": [{"width": 179, "height": 168, "title": {"text": "P=0.043", "offset": 7},
  "transform": [{"filter": "datum.p == 'C'"}, {"calculate": "floor(datum.v / 3.3)", "as": "bin"}, {"calculate": "datum.g == 'HC' ? 1 : 2", "as": "grp"}, {"window": [{"op": "row_number", "as": "r"}, {"op": "count", "as": "k"}], "groupby": ["g", "bin"], "sort": [{"field": "v"}], "frame": [null, null]}, {"calculate": "datum.grp + ((datum.r % 2 == 1 ? -(datum.r - 1) / 2 : datum.r / 2) - (datum.k % 2 == 0 ? 0.5 : 0)) * 0.0667", "as": "xpos"}],
  "encoding": {"x": {"field": "xpos", "type": "quantitative", "scale": {"domain": [0.46, 2.54]}, "axis": {"values": [1, 2], "labelExpr": "datum.value == 1 ? 'HC' : 'NPC'", "title": "hsa-miR-486-3p"}},
   "y": {"field": "v", "type": "quantitative", "scale": {"domain": [-4.2, 105.5], "nice": false, "zero": false}, "axis": {"values": [0, 20, 40, 60, 80, 100], "labelOverlap": false, "title": "Relative Expresssion"}}},
  "layer": [
   {"mark": {"type": "point", "filled": true, "size": 27, "opacity": 1, "color": "#000", "clip": true},
    "encoding": {"shape": {"field": "g", "type": "nominal", "scale": {"domain": ["HC", "NPC"], "range": ["circle", "square"]}, "legend": null}}},
   {"transform": [{"aggregate": [{"op": "mean", "field": "v", "as": "m"}, {"op": "stderr", "field": "v", "as": "se"}], "groupby": ["grp"]}, {"calculate": "datum.m + datum.se", "as": "hi"}, {"calculate": "datum.m - datum.se", "as": "lo"}, {"fold": ["lo", "m", "hi"], "as": ["stat", "v"]}, {"calculate": "datum.grp - 0.2", "as": "xpos"}, {"calculate": "datum.grp + 0.2", "as": "xend"}],
    "mark": {"type": "rule", "color": "#555", "strokeWidth": 1.2},
    "encoding": {"x2": {"field": "xend"}}}
  ]}]}
]},
{"spacing": 40, "hconcat": [
{"title": {"text": "(D)", "anchor": "start", "frame": "bounds", "fontSize": 11, "offset": -14},
 "vconcat": [{"width": 179, "height": 167, "title": {"text": "P=0.16", "offset": 7},
  "transform": [{"filter": "datum.p == 'D'"}, {"calculate": "floor(datum.v / 8)", "as": "bin"}, {"calculate": "datum.g == 'HC' ? 1 : 2", "as": "grp"}, {"window": [{"op": "row_number", "as": "r"}, {"op": "count", "as": "k"}], "groupby": ["g", "bin"], "sort": [{"field": "v"}], "frame": [null, null]}, {"calculate": "datum.grp + ((datum.r % 2 == 1 ? -(datum.r - 1) / 2 : datum.r / 2) - (datum.k % 2 == 0 ? 0.5 : 0)) * 0.0667", "as": "xpos"}],
  "encoding": {"x": {"field": "xpos", "type": "quantitative", "scale": {"domain": [0.46, 2.54]}, "axis": {"values": [1, 2], "labelExpr": "datum.value == 1 ? 'HC' : 'NPC'", "title": "hsa-miR-205-5p"}},
   "y": {"field": "v", "type": "quantitative", "scale": {"domain": [-27.7, 660], "nice": false, "zero": false}, "axis": {"values": [0, 100, 200, 300, 400, 500, 600], "labelOverlap": false, "labelExpr": "datum.value == 200 || datum.value == 400 || datum.value == 600 ? '' : datum.label", "title": "Relative Expresssion"}}},
  "layer": [
   {"mark": {"type": "point", "filled": true, "size": 27, "opacity": 1, "color": "#000", "clip": true},
    "encoding": {"shape": {"field": "g", "type": "nominal", "scale": {"domain": ["HC", "NPC"], "range": ["circle", "square"]}, "legend": null}}},
   {"transform": [{"aggregate": [{"op": "mean", "field": "v", "as": "m"}, {"op": "stderr", "field": "v", "as": "se"}], "groupby": ["grp"]}, {"calculate": "datum.m + datum.se", "as": "hi"}, {"calculate": "datum.m - datum.se", "as": "lo"}, {"fold": ["lo", "m", "hi"], "as": ["stat", "v"]}, {"calculate": "datum.grp - 0.2", "as": "xpos"}, {"calculate": "datum.grp + 0.2", "as": "xend"}],
    "mark": {"type": "rule", "color": "#555", "strokeWidth": 1.2},
    "encoding": {"x2": {"field": "xend"}}}
  ]}]},
{"title": {"text": "(E)", "anchor": "start", "frame": "bounds", "fontSize": 11, "offset": -14},
 "vconcat": [{"width": 179, "height": 167, "title": {"text": "P=0.23", "offset": 7},
  "transform": [{"filter": "datum.p == 'E'"}, {"calculate": "floor(datum.v / 0.7)", "as": "bin"}, {"calculate": "datum.g == 'HC' ? 1 : 2", "as": "grp"}, {"window": [{"op": "row_number", "as": "r"}, {"op": "count", "as": "k"}], "groupby": ["g", "bin"], "sort": [{"field": "v"}], "frame": [null, null]}, {"calculate": "datum.grp + ((datum.r % 2 == 1 ? -(datum.r - 1) / 2 : datum.r / 2) - (datum.k % 2 == 0 ? 0.5 : 0)) * 0.0667", "as": "xpos"}],
  "encoding": {"x": {"field": "xpos", "type": "quantitative", "scale": {"domain": [0.46, 2.54]}, "axis": {"values": [1, 2], "labelExpr": "datum.value == 1 ? 'HC' : 'NPC'", "title": "hsa-miR-409-3p"}},
   "y": {"field": "v", "type": "quantitative", "scale": {"domain": [-0.05, 23.2], "nice": false, "zero": false}, "axis": {"values": [0, 5, 10, 15, 20], "labelOverlap": false, "title": "Relative Expresssion"}}},
  "layer": [
   {"mark": {"type": "point", "filled": true, "size": 27, "opacity": 1, "color": "#000", "clip": true},
    "encoding": {"shape": {"field": "g", "type": "nominal", "scale": {"domain": ["HC", "NPC"], "range": ["circle", "square"]}, "legend": null}}},
   {"transform": [{"aggregate": [{"op": "mean", "field": "v", "as": "m"}, {"op": "stderr", "field": "v", "as": "se"}], "groupby": ["grp"]}, {"calculate": "datum.m + datum.se", "as": "hi"}, {"calculate": "datum.m - datum.se", "as": "lo"}, {"fold": ["lo", "m", "hi"], "as": ["stat", "v"]}, {"calculate": "datum.grp - 0.2", "as": "xpos"}, {"calculate": "datum.grp + 0.2", "as": "xend"}],
    "mark": {"type": "rule", "color": "#555", "strokeWidth": 1.2},
    "encoding": {"x2": {"field": "xend"}}}
  ]}]},
{"title": {"text": "(F)", "anchor": "start", "frame": "bounds", "fontSize": 11, "offset": -14},
 "vconcat": [{"width": 179, "height": 167, "title": {"text": "P=0.82", "offset": 7},
  "transform": [{"filter": "datum.p == 'F'"}, {"calculate": "floor(datum.v / 4.1)", "as": "bin"}, {"calculate": "datum.g == 'HC' ? 1 : 2", "as": "grp"}, {"window": [{"op": "row_number", "as": "r"}, {"op": "count", "as": "k"}], "groupby": ["g", "bin"], "sort": [{"field": "v"}], "frame": [null, null]}, {"calculate": "datum.grp + ((datum.r % 2 == 1 ? -(datum.r - 1) / 2 : datum.r / 2) - (datum.k % 2 == 0 ? 0.5 : 0)) * 0.0667", "as": "xpos"}],
  "encoding": {"x": {"field": "xpos", "type": "quantitative", "scale": {"domain": [0.46, 2.54]}, "axis": {"values": [1, 2], "labelExpr": "datum.value == 1 ? 'HC' : 'NPC'", "title": "hsa-miR-484"}},
   "y": {"field": "v", "type": "quantitative", "scale": {"domain": [-4.3, 132], "nice": false, "zero": false}, "axis": {"values": [0, 20, 40, 60, 80, 100, 120], "labelOverlap": false, "labelExpr": "datum.value == 120 ? '' : datum.label", "title": "Relative Expresssion"}}},
  "layer": [
   {"mark": {"type": "point", "filled": true, "size": 27, "opacity": 1, "color": "#000", "clip": true},
    "encoding": {"shape": {"field": "g", "type": "nominal", "scale": {"domain": ["HC", "NPC"], "range": ["circle", "square"]}, "legend": null}}},
   {"transform": [{"aggregate": [{"op": "mean", "field": "v", "as": "m"}, {"op": "stderr", "field": "v", "as": "se"}], "groupby": ["grp"]}, {"calculate": "datum.m + datum.se", "as": "hi"}, {"calculate": "datum.m - datum.se", "as": "lo"}, {"fold": ["lo", "m", "hi"], "as": ["stat", "v"]}, {"calculate": "datum.grp - 0.2", "as": "xpos"}, {"calculate": "datum.grp + 0.2", "as": "xend"}],
    "mark": {"type": "rule", "color": "#555", "strokeWidth": 1.2},
    "encoding": {"x2": {"field": "xend"}}}
  ]}]}
]},
{"spacing": 40, "hconcat": [
{"title": {"text": "(G)", "anchor": "start", "frame": "bounds", "fontSize": 11, "offset": -14},
 "vconcat": [{"width": 179, "height": 167, "title": {"text": "P=0.68", "offset": 7},
  "transform": [{"filter": "datum.p == 'G'"}, {"calculate": "floor(datum.v / 1.2)", "as": "bin"}, {"calculate": "datum.g == 'HC' ? 1 : 2", "as": "grp"}, {"window": [{"op": "row_number", "as": "r"}, {"op": "count", "as": "k"}], "groupby": ["g", "bin"], "sort": [{"field": "v"}], "frame": [null, null]}, {"calculate": "datum.grp + ((datum.r % 2 == 1 ? -(datum.r - 1) / 2 : datum.r / 2) - (datum.k % 2 == 0 ? 0.5 : 0)) * 0.0667", "as": "xpos"}],
  "encoding": {"x": {"field": "xpos", "type": "quantitative", "scale": {"domain": [0.46, 2.54]}, "axis": {"values": [1, 2], "labelExpr": "datum.value == 1 ? 'HC' : 'NPC'", "title": "hsa-miR-92b-3p"}},
   "y": {"field": "v", "type": "quantitative", "scale": {"domain": [-0.8, 38.9], "nice": false, "zero": false}, "axis": {"values": [0, 10, 20, 30], "labelOverlap": false, "title": "Relative Expresssion"}}},
  "layer": [
   {"mark": {"type": "point", "filled": true, "size": 27, "opacity": 1, "color": "#000", "clip": true},
    "encoding": {"shape": {"field": "g", "type": "nominal", "scale": {"domain": ["HC", "NPC"], "range": ["circle", "square"]}, "legend": null}}},
   {"transform": [{"aggregate": [{"op": "mean", "field": "v", "as": "m"}, {"op": "stderr", "field": "v", "as": "se"}], "groupby": ["grp"]}, {"calculate": "datum.m + datum.se", "as": "hi"}, {"calculate": "datum.m - datum.se", "as": "lo"}, {"fold": ["lo", "m", "hi"], "as": ["stat", "v"]}, {"calculate": "datum.grp - 0.2", "as": "xpos"}, {"calculate": "datum.grp + 0.2", "as": "xend"}],
    "mark": {"type": "rule", "color": "#555", "strokeWidth": 1.2},
    "encoding": {"x2": {"field": "xend"}}}
  ]}]},
{"title": {"text": "(H)", "anchor": "start", "frame": "bounds", "fontSize": 11, "offset": -14},
 "vconcat": [{"width": 179, "height": 167, "title": {"text": "P=0.046", "offset": 7},
  "transform": [{"filter": "datum.p == 'H'"}, {"calculate": "floor(datum.v / 12)", "as": "bin"}, {"calculate": "datum.g == 'HC' ? 1 : 2", "as": "grp"}, {"window": [{"op": "row_number", "as": "r"}, {"op": "count", "as": "k"}], "groupby": ["g", "bin"], "sort": [{"field": "v"}], "frame": [null, null]}, {"calculate": "datum.grp + ((datum.r % 2 == 1 ? -(datum.r - 1) / 2 : datum.r / 2) - (datum.k % 2 == 0 ? 0.5 : 0)) * 0.0667", "as": "xpos"}],
  "encoding": {"x": {"field": "xpos", "type": "quantitative", "scale": {"domain": [0.46, 2.54]}, "axis": {"values": [1, 2], "labelExpr": "datum.value == 1 ? 'HC' : 'NPC'", "title": "hsa-miR-205-5p"}},
   "y": {"field": "v", "type": "quantitative", "scale": {"domain": [-17.6, 384], "nice": false, "zero": false}, "axis": {"values": [0, 100, 200, 300], "labelOverlap": false, "title": "Relative Expresssion"}}},
  "layer": [
   {"mark": {"type": "point", "filled": true, "size": 27, "opacity": 1, "color": "#000", "clip": true},
    "encoding": {"shape": {"field": "g", "type": "nominal", "scale": {"domain": ["HC", "NPC"], "range": ["circle", "square"]}, "legend": null}}},
   {"transform": [{"aggregate": [{"op": "mean", "field": "v", "as": "m"}, {"op": "stderr", "field": "v", "as": "se"}], "groupby": ["grp"]}, {"calculate": "datum.m + datum.se", "as": "hi"}, {"calculate": "datum.m - datum.se", "as": "lo"}, {"fold": ["lo", "m", "hi"], "as": ["stat", "v"]}, {"calculate": "datum.grp - 0.2", "as": "xpos"}, {"calculate": "datum.grp + 0.2", "as": "xend"}],
    "mark": {"type": "rule", "color": "#555", "strokeWidth": 1.2},
    "encoding": {"x2": {"field": "xend"}}}
  ]}]},
{"title": {"text": "(I)", "anchor": "start", "frame": "bounds", "fontSize": 11, "offset": -14},
 "vconcat": [{"width": 179, "height": 167, "title": {"text": "P=0.036", "offset": 7},
  "transform": [{"filter": "datum.p == 'I'"}, {"calculate": "floor(datum.v / 12)", "as": "bin"}, {"calculate": "datum.g == 'HC' ? 1 : 2", "as": "grp"}, {"window": [{"op": "row_number", "as": "r"}, {"op": "count", "as": "k"}], "groupby": ["g", "bin"], "sort": [{"field": "v"}], "frame": [null, null]}, {"calculate": "datum.grp + ((datum.r % 2 == 1 ? -(datum.r - 1) / 2 : datum.r / 2) - (datum.k % 2 == 0 ? 0.5 : 0)) * 0.0667", "as": "xpos"}],
  "encoding": {"x": {"field": "xpos", "type": "quantitative", "scale": {"domain": [0.46, 2.54]}, "axis": {"values": [1, 2], "labelExpr": "datum.value == 1 ? 'HC' : 'NPC'", "title": "hsa-miR-205-5p"}},
   "y": {"field": "v", "type": "quantitative", "scale": {"domain": [-17.6, 384], "nice": false, "zero": false}, "axis": {"values": [0, 100, 200, 300], "labelOverlap": false, "title": "Relative Expresssion"}}},
  "layer": [
   {"mark": {"type": "point", "filled": true, "size": 27, "opacity": 1, "color": "#000", "clip": true},
    "encoding": {"shape": {"field": "g", "type": "nominal", "scale": {"domain": ["HC", "NPC"], "range": ["circle", "square"]}, "legend": null}}},
   {"transform": [{"aggregate": [{"op": "mean", "field": "v", "as": "m"}, {"op": "stderr", "field": "v", "as": "se"}], "groupby": ["grp"]}, {"calculate": "datum.m + datum.se", "as": "hi"}, {"calculate": "datum.m - datum.se", "as": "lo"}, {"fold": ["lo", "m", "hi"], "as": ["stat", "v"]}, {"calculate": "datum.grp - 0.2", "as": "xpos"}, {"calculate": "datum.grp + 0.2", "as": "xend"}],
    "mark": {"type": "rule", "color": "#555", "strokeWidth": 1.2},
    "encoding": {"x2": {"field": "xend"}}}
  ]}]}
]}
],
"config": {
 "font": "Liberation Sans",
 "view": {"stroke": null},
 "axis": {"grid": false, "domainColor": "#444", "domainWidth": 1, "tickColor": "#444", "labelColor": "#222", "titleColor": "#111", "labelFont": "Liberation Sans", "titleFont": "Liberation Sans", "labelFontSize": 10.5, "titleFontSize": 12, "titleFontWeight": "bold", "labelOverlap": false},
 "axisX": {"ticks": false, "labelPadding": 8, "titlePadding": 6, "labelAngle": 0},
 "axisY": {"labelAngle": -90, "labelAlign": "center", "labelBaseline": "bottom", "tickSize": 5, "labelPadding": 3, "titlePadding": 5, "titleFontSize": 10.5, "labelFlush": false},
 "title": {"font": "Liberation Sans", "fontSize": 14, "fontWeight": "bold", "color": "#000"}
}
}
